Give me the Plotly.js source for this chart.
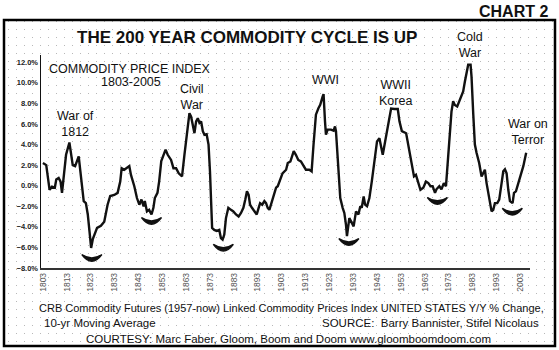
<!DOCTYPE html>
<html>
<head>
<meta charset="utf-8">
<script src="https://cdn.plot.ly/plotly-3.0.1.min.js"></script>
<style>html,body{margin:0;padding:0;background:#fff;}#chart{width:559px;height:350px;}</style>
</head>
<body>
<div id="chart"></div>
<script>
// ---- data ----
const years = [1803.0,1804.4,1805.8,1806.8,1808.0,1808.6,1809.6,1810.4,1811.0,1811.8,1812.7,1814.1,1814.8,1815.5,1816.5,1817.3,1818.0,1818.7,1819.3,1820.1,1821.0,1821.8,1822.5,1823.2,1823.9,1824.6,1825.7,1827.3,1828.7,1830.1,1831.2,1832.9,1834.3,1835.4,1836.0,1837.1,1838.2,1839.2,1839.9,1841.3,1842.4,1843.4,1844.3,1845.2,1845.7,1846.6,1847.5,1848.5,1849.3,1849.9,1851.0,1851.7,1852.6,1853.5,1854.4,1855.3,1856.7,1857.7,1858.8,1859.9,1861.3,1862.3,1863.3,1864.4,1865.1,1865.8,1866.5,1867.2,1867.9,1868.6,1869.3,1870.0,1870.7,1871.6,1872.4,1873.0,1873.4,1873.9,1874.8,1875.8,1876.9,1877.6,1878.3,1879.0,1879.7,1880.7,1881.8,1882.8,1883.9,1885.0,1886.0,1887.0,1887.8,1888.5,1889.2,1889.8,1890.6,1891.6,1892.6,1893.4,1894.0,1894.9,1895.8,1896.5,1897.2,1897.9,1899.0,1900.0,1900.7,1901.4,1902.4,1903.4,1904.9,1905.6,1906.7,1908.1,1909.0,1910.0,1911.1,1912.3,1913.2,1914.6,1915.6,1916.4,1917.4,1918.4,1919.2,1920.2,1920.6,1921.2,1921.6,1922.3,1923.7,1924.8,1925.4,1925.8,1926.5,1927.2,1927.6,1928.6,1929.3,1930.0,1930.4,1931.4,1932.4,1933.2,1934.2,1935.2,1936.0,1936.6,1937.4,1938.0,1938.8,1939.8,1940.8,1941.9,1943.0,1944.0,1944.7,1945.4,1946.4,1947.5,1948.2,1948.9,1950.3,1951.7,1952.4,1953.4,1955.2,1956.5,1957.5,1958.5,1959.3,1960.3,1961.2,1962.4,1963.5,1964.5,1965.4,1966.3,1967.3,1967.9,1969.1,1970.0,1971.0,1971.9,1972.8,1973.5,1974.2,1974.9,1975.6,1976.6,1977.4,1978.4,1979.1,1979.8,1980.5,1981.2,1982.2,1982.6,1983.3,1984.0,1984.7,1985.8,1986.8,1987.5,1988.2,1988.9,1989.6,1990.3,1991.0,1991.7,1992.4,1993.4,1994.2,1995.2,1995.9,1996.6,1997.3,1998.0,1998.7,1999.8,2000.4,2001.2,2002.2,2003.2,2004.3,2005.5];
const yoyChange = [2.2,2.0,-0.4,-0.1,-0.2,0.6,0.75,0.4,-0.7,0.8,3.0,4.2,3.3,2.0,1.9,2.4,2.85,1.4,-0.2,-1.5,-1.7,-2.8,-4.4,-6.05,-5.2,-4.75,-4.1,-3.9,-3.5,-1.85,-1.0,-0.9,-0.7,0.4,1.7,1.55,1.7,1.9,1.05,-0.05,-1.2,-1.85,-1.35,-2.0,-1.5,-2.5,-2.35,-2.8,-2.15,-1.2,-0.7,0.4,2.4,3.0,3.5,3.0,2.5,1.7,1.7,1.2,0.9,3.0,5.1,7.05,6.7,5.9,5.1,6.25,6.55,6.1,6.25,5.3,4.95,5.0,4.0,1.4,-0.9,-4.1,-4.3,-4.4,-4.3,-5.1,-5.25,-4.75,-3.15,-2.15,-2.35,-2.5,-2.8,-3.0,-2.65,-2.15,-1.35,-0.55,-0.9,-1.85,-2.15,-2.5,-2.8,-2.15,-1.7,-1.85,-1.5,-1.7,-2.15,-2.35,-1.5,-0.9,-0.2,-0.05,0.6,1.2,1.55,2.2,2.35,3.35,3.0,2.5,2.35,1.9,1.55,1.55,1.4,4.0,6.9,7.5,7.85,8.65,8.9,6.25,4.95,5.45,5.45,5.35,5.75,5.3,3.0,0.75,-1.2,-2.15,-2.65,-3.8,-4.9,-3.15,-3.6,-3.95,-2.5,-2.8,-2.0,-2.15,-1.05,-1.85,-2.0,-1.2,0.4,2.35,4.3,4.6,3.65,3.0,4.3,5.75,6.9,7.5,7.45,7.45,6.25,5.3,5.1,3.5,2.2,0.9,1.05,0.4,-0.4,-0.2,0.4,0.25,-0.05,-0.05,-0.7,-0.35,-0.05,-0.35,0.25,-0.05,2.85,5.75,7.2,8.2,7.85,7.7,8.2,8.85,9.15,10.1,10.95,11.75,11.75,10.6,7.05,4.0,3.2,2.2,0.9,1.2,1.55,0.25,-0.7,-1.7,-2.5,-2.35,-1.7,-1.7,-1.35,0.25,1.4,1.6,1.2,-0.4,-1.5,-1.7,-0.7,-0.55,0.25,1.2,1.9,3.2];
const tickYears = [1803,1813,1823,1833,1843,1853,1863,1873,1883,1893,1903,1913,1923,1933,1943,1953,1963,1973,1983,1993,2003];
const troughYears = [1823.5,1848.5,1878.6,1931.2,1968.3,1999.7];
const troughMarks = [-7.0,-3.4,-6.0,-5.45,-1.45,-2.5];
const warLabels = ["War of<br>1812","Civil<br>War","WWI","WWII<br>Korea","Cold<br>War","War on<br>Terror"];

// ---- page geometry helpers (pixels -> paper fractions) ----
const W = 559, H = 350;
const px = x => x / W;
const py = y => 1 - y / H;
const FONT = "Arial, 'Liberation Sans', sans-serif";

const traces = [
  // empty trace that carries the dotted background lattice subplot
  {x: [], y: [], xaxis: 'x', yaxis: 'y', type: 'scatter', hoverinfo: 'skip', showlegend: false},
  {x: years, y: yoyChange, xaxis: 'x2', yaxis: 'y2', type: 'scatter', mode: 'lines',
   line: {color: '#111', width: 2.4}, hoverinfo: 'skip', showlegend: false}
];

// crescent marks under the troughs (built from trough arrays)
const shapes = troughYears.map((t, i) => {
  const v = troughMarks[i];
  return {type: 'path', xref: 'x2', yref: 'y2',
    path: `M ${t-4.2},${v+0.3} Q ${t},${v-1.0} ${t+4.2},${v+0.3} Q ${t},${v-0.35} ${t-4.2},${v+0.3} Z`,
    fillcolor: '#111', line: {color: '#111', width: 1.5}};
});
// outer frame
shapes.push({type: 'rect', xref: 'paper', yref: 'paper', x0: px(4), x1: px(555), y0: py(346), y1: py(20),
  line: {color: '#000', width: 2.5}, fillcolor: 'rgba(0,0,0,0)', layer: 'above'});

const warPos = [[75,124],[191.5,97],[325,80],[395,93],[469.5,45],[528,132]];
const annotations = warLabels.map((t, i) => ({
  text: t, xref: 'paper', yref: 'paper', x: px(warPos[i][0]), y: py(warPos[i][1]),
  xanchor: 'center', yanchor: 'middle', showarrow: false,
  font: {family: FONT, size: 12.5, color: '#111'}
}));
const addText = (text, x, y, size, opts = {}) => annotations.push(Object.assign({
  text, xref: 'paper', yref: 'paper', x: px(x), y: py(y), xanchor: 'center', yanchor: 'middle',
  showarrow: false, font: {family: FONT, size, color: '#111', weight: opts.weight || 'normal'}
}, opts.extra || {}));
addText('CHART 2', 550, 11, 16, {weight: 'bold', extra: {xanchor: 'right'}});
addText('THE 200 YEAR COMMODITY CYCLE IS UP', 246.5, 38, 17, {weight: 'bold'});
addText('COMMODITY PRICE INDEX', 130, 68.5, 12.5);
addText('1803-2005', 130.5, 82, 12.5);
addText('CRB Commodity Futures (1957-now) Linked Commodity Prices Index UNITED STATES Y/Y % Change,', 291.5, 308, 11);
addText('10-yr Moving Average', 42, 323, 11.5, {extra: {xanchor: 'left'}});
addText('SOURCE:  Barry Bannister, Stifel Nicolaus', 541, 323, 11.5, {extra: {xanchor: 'right'}});
addText('COURTESY: Marc Faber, Gloom, Boom and Doom www.gloomboomdoom.com', 288, 339, 11.5);

const layout = {
  width: W, height: H, autosize: false,
  margin: {l: 0, r: 0, t: 0, b: 0, pad: 0},
  paper_bgcolor: '#fff', plot_bgcolor: 'rgba(0,0,0,0)',
  showlegend: false,
  // dotted lattice background
  xaxis: {domain: [px(5), px(554)], range: [5, 554], showgrid: true, dtick: 8, tick0: 8,
          gridcolor: '#b8b8b8', gridwidth: 1, griddash: '1px,7px',
          showticklabels: false, zeroline: false, showline: false, ticks: '', fixedrange: true},
  yaxis: {domain: [py(345), py(21)], range: [345, 21], showgrid: false,
          showticklabels: false, zeroline: false, showline: false, ticks: '', fixedrange: true},
  // data axes
  xaxis2: {domain: [px(41), px(530)], range: [1802.2, 2007.1], anchor: 'y2',
           tickmode: 'array', tickvals: tickYears, ticktext: tickYears.map(String),
           tickangle: -90, ticks: '', showgrid: false, zeroline: false,
           showline: true, linecolor: '#333', linewidth: 1.5,
           tickfont: {family: FONT, size: 8.5, color: '#555'}},
  yaxis2: {domain: [py(268), py(55)], range: [-8, 12.7], anchor: 'x2',
           tickmode: 'linear', tick0: -8, dtick: 2, tickformat: '.1f', ticksuffix: '%',
           ticks: '', showgrid: false, zeroline: false,
           showline: true, linecolor: '#111', linewidth: 1.5,
           tickfont: {family: FONT, size: 7.5, color: '#222', weight: 'bold'}},
  shapes, annotations
};

Plotly.newPlot('chart', traces, layout, {staticPlot: true, displayModeBar: false});
</script>
</body>
</html>
